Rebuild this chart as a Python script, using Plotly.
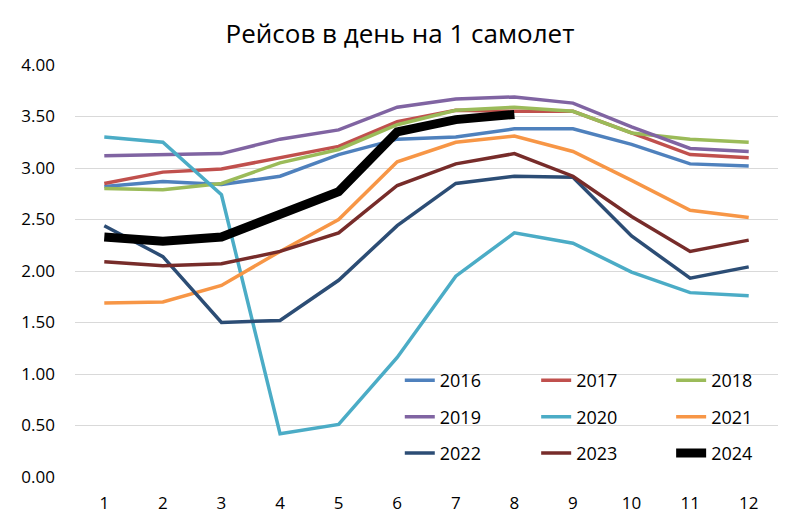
import plotly.graph_objects as go

months = [1, 2, 3, 4, 5, 6, 7, 8, 9, 10, 11, 12]

y2016 = [2.82, 2.87, 2.84, 2.92, 3.13, 3.28, 3.30, 3.38, 3.38, 3.23, 3.04, 3.02]
y2017 = [2.85, 2.96, 2.99, 3.10, 3.21, 3.45, 3.56, 3.55, 3.55, 3.34, 3.13, 3.10]
y2018 = [2.80, 2.79, 2.85, 3.05, 3.18, 3.42, 3.56, 3.59, 3.55, 3.34, 3.28, 3.25]
y2019 = [3.12, 3.13, 3.14, 3.28, 3.37, 3.59, 3.67, 3.69, 3.63, 3.40, 3.19, 3.16]
y2020 = [3.30, 3.25, 2.74, 0.42, 0.51, 1.16, 1.95, 2.37, 2.27, 1.99, 1.79, 1.76]
y2021 = [1.69, 1.70, 1.86, 2.19, 2.50, 3.06, 3.25, 3.31, 3.16, 2.88, 2.59, 2.52]
y2022 = [2.44, 2.14, 1.50, 1.52, 1.91, 2.44, 2.85, 2.92, 2.91, 2.34, 1.93, 2.04]
y2023 = [2.09, 2.05, 2.07, 2.19, 2.37, 2.83, 3.04, 3.14, 2.92, 2.53, 2.19, 2.30]
y2024 = [2.33, 2.29, 2.33, 2.54, 2.77, 3.35, 3.47, 3.52]

years = ["2016", "2017", "2018", "2019", "2020", "2021", "2022", "2023", "2024"]
series = [y2016, y2017, y2018, y2019, y2020, y2021, y2022, y2023, y2024]
colors = ["#4F81BD", "#C0504D", "#9BBB59", "#8064A2", "#4BACC6",
          "#F79646", "#2C4D75", "#772C2A", "#000000"]
legends = ["legend", "legend2", "legend3"] * 3

y_ticks = [0, 0.5, 1, 1.5, 2, 2.5, 3, 3.5, 4]
y_tick_text = ["0.00", "0.50", "1.00", "1.50", "2.00", "2.50", "3.00", "3.50", "4.00"]

FONT = "Open Sans"

fig = go.Figure()
for name, ys, col, lg in zip(years, series, colors, legends):
    fig.add_trace(go.Scatter(
        x=months[:len(ys)], y=ys, mode="lines", name=name,
        line=dict(color=col, width=9 if name == "2024" else 3.5),
        legend=lg, legendgroup=name,
    ))

leg_common = dict(
    orientation="v", xanchor="left", yanchor="top",
    bgcolor="rgba(0,0,0,0)", font=dict(family=FONT, size=18, color="#000000"),
    tracegroupgap=10, itemwidth=30,
)
fig.update_layout(
    width=800, height=530,
    margin=dict(l=75, r=22, t=65, b=52.5),
    paper_bgcolor="white", plot_bgcolor="white",
    font=dict(family=FONT, size=17, color="#000000"),
    title=dict(text="Рейсов в день на 1 самолет", x=0.5, xanchor="center",
               y=1 - 34 / 530, yanchor="middle", yref="container",
               font=dict(family=FONT, size=26, color="#000000")),
    legend=dict(x=0.462, y=0.279, **leg_common),
    legend2=dict(x=0.656, y=0.279, **leg_common),
    legend3=dict(x=0.848, y=0.279, **leg_common),
    xaxis=dict(range=[0.5, 12.5], tickmode="array", tickvals=months,
               ticktext=[str(m) for m in months], showgrid=False,
               zeroline=False, showline=False, ticks="",
               ticklabelstandoff=14, tickfont=dict(size=17)),
    yaxis=dict(range=[0, 4], tickmode="array", tickvals=y_ticks,
               ticktext=y_tick_text, showgrid=True, gridcolor="#D9D9D9",
               gridwidth=1.3, zeroline=False, showline=False, ticks="",
               ticklabelstandoff=19, tickfont=dict(size=17)),
)

fig.write_html("out.html")
